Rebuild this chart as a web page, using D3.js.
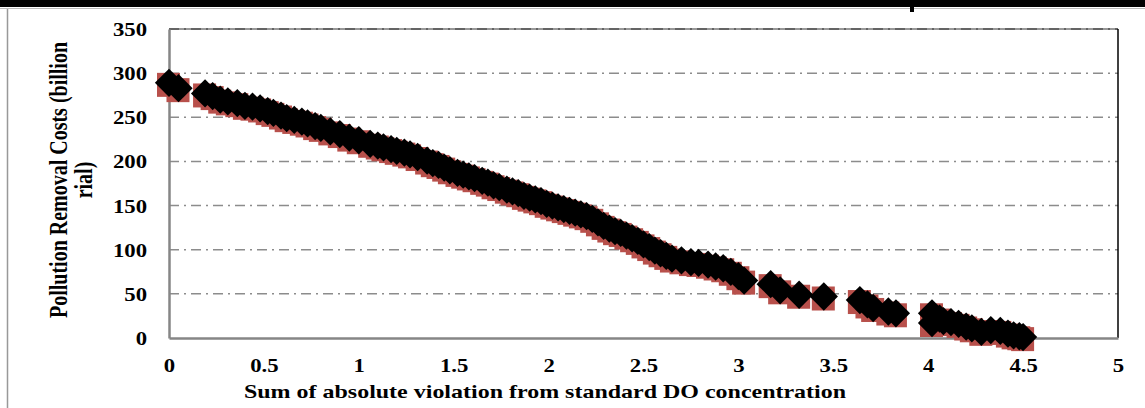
<!DOCTYPE html>
<html>
<head>
<meta charset="utf-8">
<script src="https://cdn.jsdelivr.net/npm/d3@7"></script>
<style>
  body { margin: 0; background: #fff; }
  text { font-family: "Liberation Serif", "Times New Roman", serif; font-weight: bold; fill: #000; }
</style>
</head>
<body>
<svg id="vis"></svg>
<script>
// values (sum of violation vs cost)
var violation = [0.00, 0.05, 0.19, 0.23, 0.27, 0.31, 0.36, 0.40, 0.44, 0.48, 0.52, 0.55, 0.59, 0.62,
    0.66, 0.70, 0.73, 0.77, 0.80, 0.85, 0.90, 0.95, 1.00, 1.06, 1.10, 1.13, 1.17, 1.20, 1.24, 1.27,
    1.31, 1.36, 1.39, 1.42, 1.45, 1.48, 1.52, 1.55, 1.58, 1.61, 1.65, 1.68, 1.71, 1.74, 1.78, 1.81,
    1.84, 1.87, 1.90, 1.93, 1.96, 1.99, 2.02, 2.05, 2.08, 2.11, 2.14, 2.17, 2.20, 2.23, 2.26, 2.29,
    2.32, 2.35, 2.38, 2.41, 2.44, 2.47, 2.50, 2.53, 2.56, 2.59, 2.62, 2.65, 2.70, 2.75, 2.79, 2.84,
    2.88, 2.92, 2.96, 3.00, 3.03, 3.17, 3.22, 3.32, 3.45, 3.64, 3.68, 3.71, 3.79, 3.83, 4.02, 4.02,
    4.06, 4.08, 4.12, 4.16, 4.20, 4.23, 4.28, 4.33, 4.38, 4.42, 4.45, 4.48, 4.50];
var cost = [289, 283, 277, 274, 270, 268, 266, 263, 262, 260, 257, 255, 252, 249,
    247, 245, 243, 240, 238, 234, 231, 227, 224, 220, 218, 216, 214, 212, 210, 208,
    205, 201, 198, 196, 193, 190, 187, 185, 183, 181, 178, 176, 173, 171, 168, 166,
    164, 161, 159, 157, 155, 152, 150, 148, 146, 144, 142, 140, 138, 135, 131, 127,
    124, 121, 119, 116, 113, 110, 106, 103, 99, 96, 93, 90, 88, 86, 85, 83,
    81, 79, 75, 70, 65, 61, 54, 49, 47, 43, 38, 34, 30, 28, 28, 17,
    22, 19, 18, 16, 13, 11, 7, 9, 8, 5, 3, 2, 1];
var xTicks = [0, 0.5, 1, 1.5, 2, 2.5, 3, 3.5, 4, 4.5, 5];
var yTicks = [0, 50, 100, 150, 200, 250, 300, 350];
var xTitle = "Sum of absolute violation from standard DO concentration";
var yTitle = ["Pollution Removal Costs (billion", "rial)"];

const WIDTH = 1145;
const HEIGHT = 408;
const LEFT = 169, RIGHT = 1118, TOP = 29, BOTTOM = 338;
const STRETCH = 1.23; // picture text is a bit wider than tall

var points = violation.map(function(v, i) { return {x: v, y: cost[i]}; });

var svg = d3.select("#vis").attr("width", WIDTH).attr("height", HEIGHT);
svg.append("rect").attr("width", WIDTH).attr("height", HEIGHT).attr("fill", "#fff");

// outer frame bits
svg.append("rect").attr("x", 0).attr("y", 0).attr("width", WIDTH).attr("height", 7).attr("fill", "#000");
svg.append("line").attr("x1", 0).attr("x2", WIDTH).attr("y1", 8.5).attr("y2", 8.5)
    .attr("stroke", "#bbb").attr("stroke-width", 1);
svg.append("rect").attr("x", 910).attr("y", 0).attr("width", 4).attr("height", 12).attr("fill", "#000");
svg.append("line").attr("x1", 7.5).attr("x2", 7.5).attr("y1", 9).attr("y2", HEIGHT)
    .attr("stroke", "#999").attr("stroke-width", 1.5);

var xScale = d3.scaleLinear().domain([0, 5]).range([LEFT, RIGHT]);
var yScale = d3.scaleLinear().domain([0, 350]).range([BOTTOM, TOP]);

// grid lines (dash-dot)
svg.selectAll("line.grid")
    .data(yTicks.slice(1))
    .enter()
    .append("line")
    .attr("class", "grid")
    .attr("x1", LEFT).attr("x2", RIGHT)
    .attr("y1", function(d) { return yScale(d); })
    .attr("y2", function(d) { return yScale(d); })
    .attr("stroke", "#8c8c8c")
    .attr("stroke-width", 1.5)
    .attr("stroke-dasharray", "10,5,2,5");

// plot border top + right
svg.append("line").attr("x1", LEFT).attr("x2", RIGHT).attr("y1", TOP).attr("y2", TOP)
    .attr("stroke", "#000").attr("stroke-width", 1).attr("opacity", 0.8);
svg.append("line").attr("x1", RIGHT).attr("x2", RIGHT).attr("y1", TOP).attr("y2", BOTTOM)
    .attr("stroke", "#000").attr("stroke-width", 1.5);

// axes
var xAxis = svg.append("g").attr("transform", "translate(0," + BOTTOM + ")")
    .call(d3.axisBottom(xScale).tickValues(xTicks).tickSize(0).tickPadding(0).tickFormat(d3.format("")));
var yAxis = svg.append("g").attr("transform", "translate(" + LEFT + ",0)")
    .call(d3.axisLeft(yScale).tickValues(yTicks).tickSize(0).tickPadding(0));
[xAxis, yAxis].forEach(function(a) {
    a.select(".domain").attr("stroke", "#868686").attr("stroke-width", 2.5);
    a.selectAll("text").attr("font-size", "18.5px").attr("font-family", "Liberation Serif")
        .attr("font-weight", "bold").attr("fill", "#000").attr("dy", null).attr("y", null).attr("x", null);
});
// tick labels, stretched sideways like the picture
xAxis.selectAll(".tick text")
    .attr("text-anchor", "middle")
    .attr("transform", "translate(0,34) scale(" + STRETCH + ",1)");
yAxis.selectAll(".tick text")
    .attr("text-anchor", "end")
    .attr("transform", "translate(-22,6.5) scale(" + STRETCH + ",1)");

// red squares behind
svg.selectAll("rect.sq")
    .data(points)
    .enter()
    .append("rect")
    .attr("class", "sq")
    .attr("x", function(d) { return xScale(d.x) - 12; })
    .attr("y", function(d) { return yScale(d.y) - 10; })
    .attr("width", 23)
    .attr("height", 24)
    .attr("fill", "#b8504b");

// black diamonds
var diamond = d3.symbol().type(d3.symbolDiamond2).size(510);
svg.selectAll("path.dm")
    .data(points)
    .enter()
    .append("path")
    .attr("class", "dm")
    .attr("d", diamond)
    .attr("transform", function(d) {
        return "translate(" + xScale(d.x) + "," + yScale(d.y) + ")";
    })
    .attr("fill", "#000");

// titles
svg.append("text")
    .attr("transform", "translate(545,398) scale(" + STRETCH + ",1)")
    .attr("text-anchor", "middle")
    .attr("font-size", "19.5px")
    .text(xTitle);

var yt = svg.append("text")
    .attr("transform", "translate(67,180) scale(" + STRETCH + ",1) rotate(-90)")
    .attr("text-anchor", "middle")
    .attr("font-size", "20px");
yt.selectAll("tspan")
    .data(yTitle)
    .enter()
    .append("tspan")
    .attr("x", 0)
    .attr("dy", function(d, i) { return i === 0 ? 0 : "1.0em"; })
    .text(function(d) { return d; });
</script>
</body>
</html>
